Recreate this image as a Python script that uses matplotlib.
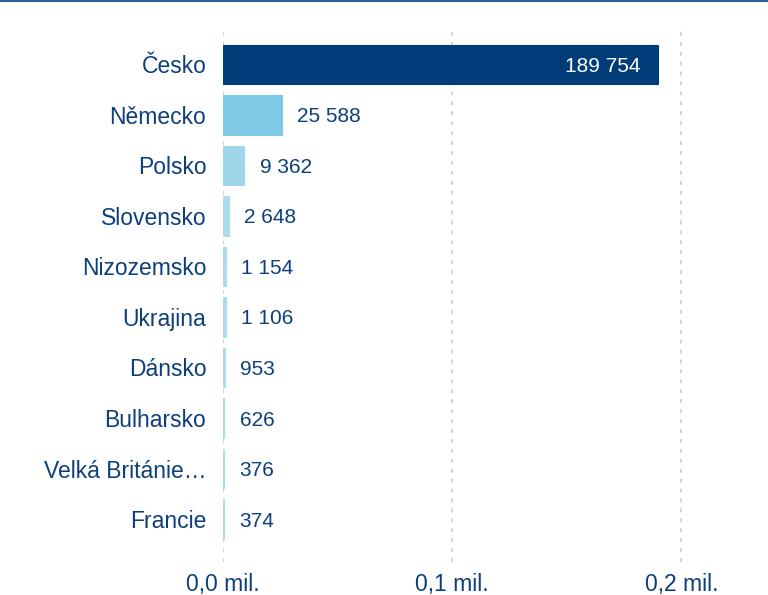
import matplotlib.pyplot as plt
from matplotlib.lines import Line2D

plt.rcParams["font.family"] = ["Liberation Sans", "DejaVu Sans"]

countries = ["Česko", "Německo", "Polsko", "Slovensko", "Nizozemsko",
             "Ukrajina", "Dánsko", "Bulharsko", "Velká Británie…", "Francie"]
values = [189754, 25588, 9362, 2648, 1154, 1106, 953, 626, 376, 374]
bar_colors = ["#003c78", "#7ecae6", "#9fd7ea", "#aadced", "#aadced",
              "#aadced", "#aadced", "#aadced", "#aadced", "#aadced"]
xticks = [0, 100000, 200000]
xtick_labels = ["0,0 mil.", "0,1 mil.", "0,2 mil."]

text_color = "#0d3f7c"


def fmt(v):
    return "{:,}".format(v).replace(",", " ")


fig = plt.figure(figsize=(7.68, 5.95), dpi=100)
ax = fig.add_axes([223 / 768, 1 - 562 / 595, (750 - 223) / 768, (562 - 30) / 595])

y = list(range(len(countries)))
ax.barh(y, values, height=0.78, color=bar_colors, edgecolor=bar_colors,
        linewidth=0.8, zorder=2)

for i, v in enumerate(values):
    if i == 0:
        ax.text(v - 7400, i, fmt(v), color="white", ha="right",
                va="center_baseline", fontsize=15)
    else:
        ax.text(v + 6600, i, fmt(v), color=text_color, ha="left",
                va="center_baseline", fontsize=15)

ax.set_xlim(0, 230000)
ax.set_ylim(9.85, -0.68)
ax.set_yticks(y)
ax.set_yticklabels(countries, fontsize=16.5, color=text_color)
ax.set_xticks(xticks)
ax.set_xticklabels(xtick_labels, fontsize=16.5, color=text_color)
ax.tick_params(axis="both", length=0)
ax.tick_params(axis="y", pad=12)
ax.tick_params(axis="x", pad=8)

ax.grid(axis="x", color="#c8c8c8", linestyle=(0, (2.5, 4)), linewidth=1.1, zorder=0)
for s in ax.spines.values():
    s.set_visible(False)

fig.add_artist(Line2D([0, 1], [0.998, 0.998], color="#2f5f9a", linewidth=1.5,
                      transform=fig.transFigure))

plt.savefig("out.png", dpi=100)
